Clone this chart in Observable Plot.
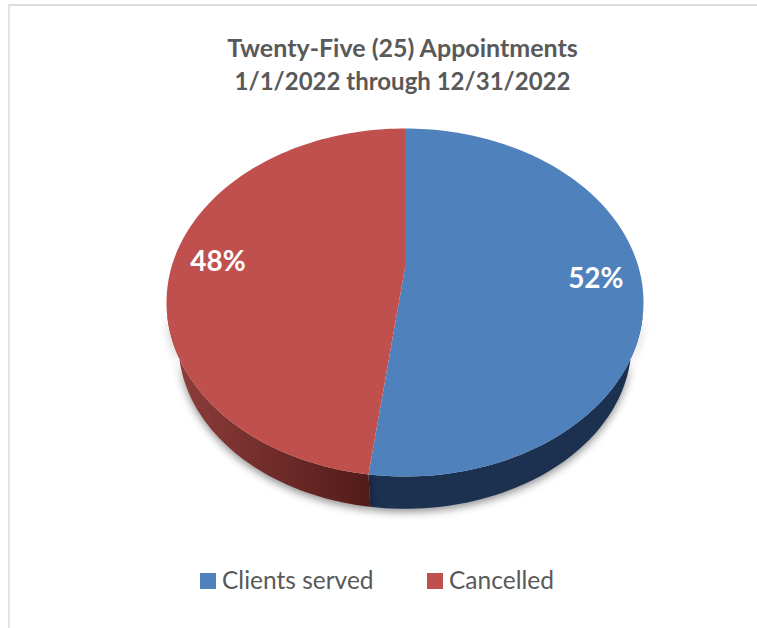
<!DOCTYPE html>
<html><head><meta charset="utf-8">
<script src="https://cdn.jsdelivr.net/npm/d3@7"></script>
<script src="https://cdn.jsdelivr.net/npm/@observablehq/plot@0.6"></script>
<style>
html,body{margin:0;padding:0;background:#fff}
#wrap{position:relative;width:757px;height:628px;overflow:hidden;font-family:Lato,sans-serif;color:#595959;background:#fff}
#frame{position:absolute;left:7.5px;top:4px;width:760px;height:640px;border-top:2px solid #dcdcdc;border-left:2px solid #e2e2e2}
#title{position:absolute;left:0;top:31px;width:805px;text-align:center;font-weight:700;font-size:25px;line-height:33px}
#title span{font-size:24px}
#chart{position:absolute;left:0;top:110px}
#chart svg{display:block;background:transparent}
.sw{position:absolute;top:573px;width:16px;height:16px}
.lb{position:absolute;top:563px;font-size:24.5px;line-height:34px;white-space:nowrap}
</style></head>
<body><div id="wrap">
<div id="frame"></div>
<div id="title">Twenty-Five (25) Appointments<br><span>1/1/2022 through 12/31/2022</span></div>
<div id="chart"></div>
<div class="sw" style="left:200px;background:#4f81bd"></div><div class="lb" style="left:222px">Clients served</div>
<div class="sw" style="left:427px;background:#c0504d"></div><div class="lb" style="left:449px">Cancelled</div>
</div>
<script>
const categories = ["Clients served", "Cancelled"];
const values = [52, 48];
const faceColors = ["#4f81bd", "#c0504d"];

// Perspective view of the pie: the apex sits above the centre of the ellipse.
const tilt = 0.2, baseScale = 0.95, baseDrop = 0.2356;
const project = (t, r = 1) => {
  const u = r * Math.sin(t), v = r * Math.cos(t), d = 1 + tilt * v;
  return [u * Math.sqrt(1 - tilt * tilt) / d, (v + tilt) / d];
};
const arcs = d3.pie().sort(null)(values);
const sample = (a) => d3.range(0, 121).map((i) => a.startAngle + (a.endAngle - a.startAngle) * i / 120);

const faces = arcs.flatMap((a, k) => [
  {category: categories[k], x: 0, y: tilt},
  ...sample(a).map((t) => { const [x, y] = project(t); return {category: categories[k], x, y}; })
]);
const wall = (a) => {
  const top = sample(a).map((t) => project(t)).filter((p) => p[1] <= -0.06);
  const bottom = top.map(([x, y]) => [x * baseScale, y * baseScale - baseDrop]).reverse();
  return [...top, ...bottom].map(([x, y]) => ({x, y}));
};
const labels = arcs.map((a, k) => {
  const [x, y] = project((a.startAngle + a.endAngle) / 2, 0.81);
  return {x, y, text: values[k] + "%"};
});
const shadow = (index, scales, channels, dims, ctx, next) => {
  const g = next(index, scales, channels, dims, ctx);
  g.style.filter = "drop-shadow(0 3px 4px rgba(0,0,0,.45))";
  return g;
};
const defs = () => {
  const d = d3.create("svg:defs");
  const g = d.append("linearGradient").attr("id", "redWall").attr("gradientUnits", "userSpaceOnUse")
    .attr("x1", 175).attr("x2", 370).attr("y1", 0).attr("y2", 0);
  g.append("stop").attr("offset", 0).attr("stop-color", "#8e3d3a");
  g.append("stop").attr("offset", 1).attr("stop-color", "#521b19");
  return d.node();
};

const plot = Plot.plot({
  width: 757, height: 440,
  marginTop: 0, marginRight: 0, marginBottom: 0, marginLeft: 0,
  x: {domain: [-1, 1], range: [166, 643], axis: null},
  y: {domain: [-1, 1], range: [366, 18], axis: null},
  color: {domain: categories, range: faceColors},
  marks: [
    defs,
    Plot.line(wall(arcs[0]), {x: "x", y: "y", fill: "#1c304f", stroke: "none", render: shadow}),
    Plot.line(wall(arcs[1]), {x: "x", y: "y", fill: "url(#redWall)", stroke: "none", render: shadow}),
    Plot.line(faces, {x: "x", y: "y", z: "category", fill: "category", stroke: "none"}),
    Plot.text(labels, {x: "x", y: "y", dy: 3, text: "text", fill: "white", fontWeight: 700, fontSize: 28, fontFamily: "Lato, sans-serif"})
  ]
});
document.getElementById("chart").append(plot);
</script>
</body></html>
